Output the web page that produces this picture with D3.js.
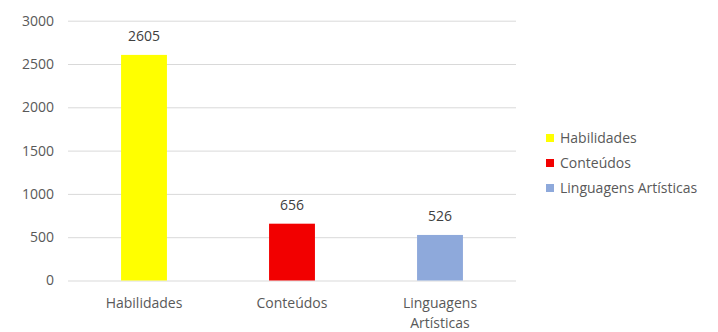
<!DOCTYPE html>
<html><head><meta charset="utf-8">
<script src="https://cdn.jsdelivr.net/npm/d3@7"></script>
<style>body{margin:0;background:#fff}svg{display:block}</style>
</head><body><svg id="c" width="718" height="332"></svg>
<script>
const categories = ["Habilidades", "Conteúdos", "Linguagens Artísticas"];
const categoryLines = [["Habilidades"], ["Conteúdos"], ["Linguagens", "Artísticas"]];
const values = [2605, 656, 526];
const colors = ["#FFFF00", "#F20000", "#8EA9DB"];
const yTicks = [0, 500, 1000, 1500, 2000, 2500, 3000];

const svg = d3.select("#c");
const font = "'Open Sans', sans-serif";
const fs = 14;
const mLeft = 70, mRight = 514, mTop = 20.7, mBottom = 280.5;
const x = d3.scaleBand().domain(categories).range([mLeft, mRight]).paddingInner(0.69).paddingOuter(0.345);
const y = d3.scaleLinear().domain([0, 3000]).range([mBottom, mTop]);

const ya = svg.append("g").attr("transform", `translate(${mLeft - 2},0)`)
  .call(d3.axisLeft(y).tickValues(yTicks).tickSize(-(mRight - mLeft + 4)).tickPadding(14).tickFormat(d3.format("d")));
ya.select(".domain").remove();
ya.selectAll(".tick line").attr("stroke", "#d9d9d9").attr("stroke-width", 1);
ya.selectAll(".tick text").attr("fill", "#595959").attr("font-family", font).attr("font-size", fs);

svg.append("g").selectAll("rect").data(values).join("rect")
  .attr("x", (d, i) => x(categories[i])).attr("width", x.bandwidth())
  .attr("y", d => y(d)).attr("height", d => y(0) - y(d))
  .attr("fill", (d, i) => colors[i]);

svg.append("g").selectAll("text").data(values).join("text")
  .attr("x", (d, i) => x(categories[i]) + x.bandwidth() / 2)
  .attr("y", d => y(d) - 14)
  .attr("text-anchor", "middle").attr("fill", "#404040")
  .attr("font-family", font).attr("font-size", fs).text(d => d);

const xl = svg.append("g");
categories.forEach((c, i) => {
  const t = xl.append("text").attr("x", x(c) + x.bandwidth() / 2).attr("y", 308)
    .attr("text-anchor", "middle").attr("fill", "#595959")
    .attr("font-family", font).attr("font-size", fs);
  categoryLines[i].forEach((ln, j) => t.append("tspan").attr("x", x(c) + x.bandwidth() / 2).attr("dy", j ? 20 : 0).text(ln));
});

const lg = svg.append("g");
categories.forEach((c, i) => {
  const yy = 138 + i * 25;
  lg.append("rect").attr("x", 546).attr("y", yy - 4).attr("width", 8).attr("height", 8).attr("fill", colors[i]);
  lg.append("text").attr("x", 560).attr("y", yy + 5).attr("fill", "#595959")
    .attr("font-family", font).attr("font-size", fs).text(c);
});
</script></body></html>
